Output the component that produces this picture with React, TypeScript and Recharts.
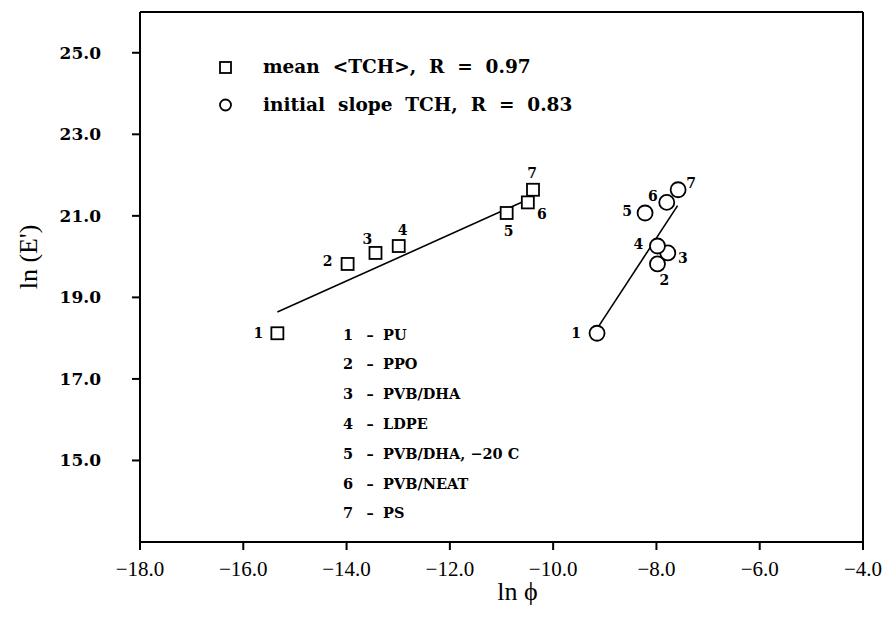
import React from 'react';
import { ScatterChart, Scatter, XAxis, YAxis, ReferenceLine, Label } from 'recharts';

// sample numbers and names (numbered key in the plot)
const sampleIds = [1, 2, 3, 4, 5, 6, 7];
const sampleNames = ['PU', 'PPO', 'PVB/DHA', 'LDPE', 'PVB/DHA,  \u221220  C', 'PVB/NEAT', 'PS'];

// ln(E') is shared by both series
const lnE = [18.12, 19.82, 20.09, 20.26, 21.07, 21.33, 21.64];
const lnPhiMean = [-15.34, -13.98, -13.44, -12.99, -10.9, -10.49, -10.39];
const lnPhiInitial = [-9.15, -7.98, -7.78, -7.98, -8.22, -7.8, -7.58];

// fitted lines, endpoints
const meanFit = [{ x: -15.34, y: 18.64 }, { x: -10.37, y: 21.47 }];
const initialFit = [{ x: -9.12, y: 18.29 }, { x: -7.59, y: 21.25 }];

const xTicks = [-18, -16, -14, -12, -10, -8, -6, -4];
const yTicks = [15, 17, 19, 21, 23, 25];

// where the point numbers sit relative to their marker (px)
const squareLabelOffsets = [[-19, 0], [-20, -3], [-8, -14], [4, -16], [2, 18], [14, 12], [-1, -17]];
const circleLabelOffsets = [[-21, 0], [7, 16], [15, 5], [-19, -2], [-18, -2], [-14, -6], [13, -7]];

const meanData = sampleIds.map((n, i) => ({ n, x: lnPhiMean[i], y: lnE[i] }));
const initialData = sampleIds.map((n, i) => ({ n, x: lnPhiInitial[i], y: lnE[i] }));

const SERIF = '"DejaVu Serif", serif';
const TIMES = '"Liberation Serif", "Times New Roman", serif';

const numStyle = { fontFamily: SERIF, fontWeight: 'bold' as const, fontSize: 14 };

const SquareShape = (props: any) => {
  const { cx, cy, payload } = props;
  const [dx, dy] = squareLabelOffsets[payload.n - 1];
  return (
    <g>
      <rect x={cx - 6} y={cy - 6} width={12} height={12} fill="#fff" stroke="#000" strokeWidth={1.8} />
      <text x={cx + dx} y={cy + dy} textAnchor="middle" dominantBaseline="central" {...numStyle}>
        {payload.n}
      </text>
    </g>
  );
};

const CircleShape = (props: any) => {
  const { cx, cy, payload } = props;
  const [dx, dy] = circleLabelOffsets[payload.n - 1];
  return (
    <g>
      <circle cx={cx} cy={cy} r={7.5} fill="#fff" stroke="#000" strokeWidth={1.8} />
      <text x={cx + dx} y={cy + dy} textAnchor="middle" dominantBaseline="central" {...numStyle}>
        {payload.n}
      </text>
    </g>
  );
};

// y tick labels sit well left of the axis, as in the original
const YTick = (props: any) => {
  const { x, y, payload } = props;
  return (
    <text x={x - 31} y={y} textAnchor="end" dominantBaseline="central"
      style={{ fontFamily: SERIF, fontWeight: 'bold', fontSize: 17, fill: '#000' }}>
      {payload.value.toFixed(1)}
    </text>
  );
};

const legendText = { fontFamily: SERIF, fontWeight: 'bold' as const, fontSize: 18.5, whiteSpace: 'pre' as const };

const Annotations = () => (
  <g>
    <rect x={220} y={62} width={11} height={11} fill="#fff" stroke="#000" strokeWidth={1.8} />
    <text x={263} y={73} style={legendText}>{'mean  <TCH>,  R  =  0.97'}</text>
    <circle cx={225.5} cy={105} r={5.5} fill="#fff" stroke="#000" strokeWidth={1.8} />
    <text x={263} y={111} style={legendText}>{'initial  slope  TCH,  R  =  0.83'}</text>
    {sampleIds.map((n, i) => (
      <g key={n} style={{ ...numStyle, fontSize: 14.5, whiteSpace: 'pre' }}>
        <text x={348} y={334 + i * 29.8} textAnchor="middle" dominantBaseline="central">{n}</text>
        <text x={370} y={334 + i * 29.8} textAnchor="middle" dominantBaseline="central">{'\u2013'}</text>
        <text x={383} y={334 + i * 29.8} dominantBaseline="central">{sampleNames[i]}</text>
      </g>
    ))}
  </g>
);

const fmt = (v: number) => (v < 0 ? '\u2212' + Math.abs(v).toFixed(1) : v.toFixed(1));

export default function App() {
  return (
    <div style={{ position: 'absolute', left: 0, top: 0, width: 885, height: 624, background: '#fff' }}>
      <ScatterChart width={885} height={624} margin={{ top: 12, right: 22, bottom: 0, left: 0 }}>
        <XAxis
          type="number"
          dataKey="x"
          domain={[-18, -4]}
          ticks={xTicks}
          tickFormatter={fmt}
          height={82}
          stroke="#000"
          strokeWidth={2}
          tickSize={8}
          tickMargin={11}
          tick={{ fill: '#000', fontFamily: TIMES, fontSize: 21 }}
        >
          <Label value={'ln  \u03d5'} position="insideBottom" offset={24} dx={16}
            style={{ fontFamily: TIMES, fontSize: 26, fill: '#000', whiteSpace: 'pre' }} />
        </XAxis>
        <YAxis
          type="number"
          dataKey="y"
          domain={[13, 26]}
          ticks={yTicks}
          width={140}
          stroke="#000"
          strokeWidth={2}
          tickSize={8}
          tickMargin={0}
          tick={(p: any) => <YTick {...p} />}
        >
          <Label value={"ln  (E')"} angle={-90} position="insideLeft" offset={28} dy={-20}
            style={{ fontFamily: TIMES, fontSize: 26, fill: '#000', whiteSpace: 'pre', textAnchor: 'middle' }} />
        </YAxis>
        <ReferenceLine y={26} stroke="#000" strokeWidth={2} />
        <ReferenceLine x={-4} stroke="#000" strokeWidth={2} />
        <ReferenceLine segment={meanFit} stroke="#000" strokeWidth={1.6} />
        <ReferenceLine segment={initialFit} stroke="#000" strokeWidth={1.6} />
        <Scatter data={meanData} shape={<SquareShape />} isAnimationActive={false} />
        <Scatter data={initialData} shape={<CircleShape />} isAnimationActive={false} />
        <Annotations />
      </ScatterChart>
    </div>
  );
}
